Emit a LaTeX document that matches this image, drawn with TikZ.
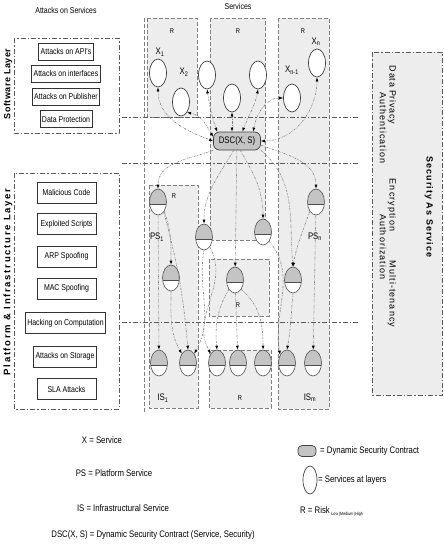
\documentclass[tikz,border=0pt]{standalone}
\usepackage{fontspec}
\setmainfont{Liberation Sans}
\newfontfamily\narrowsf[FakeStretch=0.82]{Liberation Sans}
\usetikzlibrary{arrows.meta,shapes.geometric}
\definecolor{colgray}{RGB}{237,237,237}
\definecolor{capgray}{RGB}{196,196,196}
\definecolor{linegray}{RGB}{128,128,128}

\begin{document}
\begin{tikzpicture}[x=1pt,y=1pt,>={Latex[length=4pt,width=3pt,color=black]}]
    % Define basic node styles
    \tikzset{
        attack/.style={
            rectangle,
            draw=black!80,
            fill=white,
            line width=0.7pt,
            minimum width=52,
            minimum height=17,
            inner xsep=2pt,
            inner ysep=0pt,
            font=\narrowsf\fontsize{8.5}{9}\selectfont
        },
        svc/.style={ellipse, draw=black!75, fill=white, line width=0.7pt,
            minimum width=17, minimum height=28, inner sep=0pt},
        acorn/.style={ellipse, draw=black!70, fill=white, line width=0.6pt,
            minimum width=17, minimum height=26, inner sep=0pt,
            path picture={
                \fill[capgray] ([yshift=-2pt]path picture bounding box.west) rectangle (path picture bounding box.north east);
                \draw[black!70, line width=0.6pt] ([yshift=-2pt]path picture bounding box.west) -- ([yshift=-2pt]path picture bounding box.east);
            }},
        contract/.style={rectangle, rounded corners=6pt, draw=black!75, fill=capgray,
            line width=0.7pt, minimum width=47, minimum height=18, inner sep=0pt,
            font=\narrowsf\fontsize{9.5}{10}\selectfont},
        zone/.style={draw=linegray, fill=colgray, line width=0.6pt, dash pattern=on 4pt off 2pt},
        layer/.style={draw=black!65, line width=0.7pt, dash pattern=on 5pt off 2pt on 1.5pt off 2pt},
        link/.style={draw=linegray, line width=0.6pt, dash pattern=on 2pt off 1pt on 0.5pt off 1pt on 0.5pt off 1pt},
        lbl/.style={inner sep=0pt, font=\narrowsf\fontsize{9.5}{10}\selectfont},
        risk/.style={inner sep=0pt, font=\narrowsf\fontsize{7}{8}\selectfont},
        legend/.style={inner sep=0pt, font=\narrowsf\fontsize{9.5}{10}\selectfont}
    }
    \useasboundingbox (0,0) rectangle (444,-546);

    % Headings
    \node[lbl, font=\narrowsf\fontsize{8.5}{9}\selectfont] (attacks) at (66,-10) {Attacks on Services};
    \node[lbl, font=\narrowsf\fontsize{8.5}{9}\selectfont] (services) at (238,-6) {Services};

    % Risk zones of the services
    \draw[zone] (147,-18) rectangle (197,-117);
    \draw[zone] (210,-18) rectangle (265,-240);
    \draw[zone] (278,-18) rectangle (329,-409);
    \draw[zone] (149,-185) rectangle (198,-408);
    \draw[zone] (209,-259) rectangle (269,-316);
    \draw[zone] (209,-350) rectangle (271,-408);
    \draw[zone, fill=none] (144,-18) -- (144,-413);
    \node[risk] (r1) at (172,-31) {R};
    \node[risk] (r2) at (238,-31) {R};
    \node[risk] (r3) at (303,-31) {R};
    \node[risk] (r4) at (174,-196) {R};
    \node[risk] (r5) at (238,-305) {R};
    \node[risk] (r6) at (240,-398) {R};

    % Layer boundaries
    \draw[layer] (14,-38) rectangle (119,-133);
    \draw[layer] (14,-173) rectangle (119,-409);
    \draw[layer] (122,-117) -- (358,-117);
    \draw[layer] (122,-163) -- (358,-163);
    \draw[layer] (122,-322) -- (358,-322);
    \node[rotate=90, font=\bfseries\fontsize{9}{10}\selectfont\addfontfeature{LetterSpace=6}] (soft) at (8,-84) {Software Layer};
    \node[rotate=90, font=\bfseries\fontsize{9.5}{10}\selectfont\addfontfeature{LetterSpace=18}] (plat) at (8,-282) {Platform \& Infrastructure Layer};

    % Attacks on the software layer
    \node[attack] (api) at (66,-51.5) {Attacks on API's};
    \node[attack] (iface) at (66,-73.5) {Attacks on interfaces};
    \node[attack] (publ) at (66,-96.5) {Attacks on Publisher};
    \node[attack] (prot) at (66,-119) {Data Protection};

    % Attacks on the platform & infrastructure layer
    \node[attack, minimum width=59, minimum height=21] (mal) at (66.5,-192.5) {Malicious Code};
    \node[attack, minimum width=59, minimum height=21] (expl) at (66.5,-224) {Exploited Scripts};
    \node[attack, minimum width=59, minimum height=21] (arp) at (66.5,-256.5) {ARP Spoofing};
    \node[attack, minimum width=59, minimum height=21] (mac) at (66.5,-288.5) {MAC Spoofing};
    \node[attack, minimum width=59, minimum height=21] (hack) at (65.5,-323) {Hacking on Computation};
    \node[attack, minimum width=59, minimum height=21] (stor) at (65,-356.5) {Attacks on Storage};
    \node[attack, minimum width=59, minimum height=21] (sla) at (66.5,-389) {SLA Attacks};

    % Security as a service
    \draw[layer, fill=colgray] (372,-52) rectangle (442,-395);
    \node[rotate=-90, font=\bfseries\fontsize{9}{10}\selectfont\addfontfeature{LetterSpace=12}] (saas) at (429,-207) {Security As Service};
    \node[rotate=-90, font=\fontsize{9}{10}\selectfont\addfontfeature{LetterSpace=8}] (priv) at (392,-95) {Data Privacy};
    \node[rotate=-90, font=\fontsize{9}{10}\selectfont\addfontfeature{LetterSpace=12}] (auth) at (383,-128) {Authentication};
    \node[rotate=-90, font=\fontsize{9}{10}\selectfont\addfontfeature{LetterSpace=12}] (encr) at (392,-205) {Encryption};
    \node[rotate=-90, font=\fontsize{9}{10}\selectfont\addfontfeature{LetterSpace=12}] (authz) at (383,-247) {Authorization};
    \node[rotate=-90, font=\fontsize{9}{10}\selectfont\addfontfeature{LetterSpace=12}] (multi) at (392,-294) {Multi-tenancy};

    % Services
    \node[svc] (x1) at (158,-73) {};
    \node[svc] (x2) at (181,-102) {};
    \node[svc] (x3) at (207,-75) {};
    \node[svc] (x4) at (232,-98) {};
    \node[svc] (x5) at (258,-75) {};
    \node[svc] (xn1) at (292,-98) {};
    \node[svc] (xn) at (317,-63) {};
    \node[lbl] (lx1) at (160,-52) {X\textsubscript{1}};
    \node[lbl] (lx2) at (184,-72) {X\textsubscript{2}};
    \node[lbl] (lxn1) at (292,-70) {X\textsubscript{n-1}};
    \node[lbl] (lxn) at (316,-42) {X\textsubscript{n}};

    % Dynamic security contract
    \node[contract] (dsc) at (237,-141) {DSC(X, S)};

    % Platform services
    \node[acorn] (ps1) at (158,-202) {};
    \node[acorn] (psn) at (316,-202) {};
    \node[acorn] (a2) at (204,-237) {};
    \node[acorn] (a3) at (263,-232) {};
    \node[acorn] (a4) at (171,-278) {};
    \node[acorn] (a5) at (235,-280) {};
    \node[acorn] (a6) at (293,-280) {};
    \node[lbl] (lps1) at (157,-237) {PS\textsubscript{1}};
    \node[lbl] (lpsn) at (315,-237) {PS\textsubscript{n}};

    % Infrastructural services
    \node[acorn] (is1) at (159,-363) {};
    \node[acorn] (is2) at (188,-363) {};
    \node[acorn] (is3) at (217,-363) {};
    \node[acorn] (is4) at (238,-363) {};
    \node[acorn] (is5) at (263,-363) {};
    \node[acorn] (is6) at (287,-363) {};
    \node[acorn] (is7) at (313,-363) {};
    \node[lbl] (lis1) at (163,-398) {IS\textsubscript{1}};
    \node[lbl] (lism) at (310,-398) {IS\textsubscript{m}};

    % Connections between services and the contract
    \draw[<->, link] (x1.south) to[out=-90,in=160] (dsc.west);
    \draw[<->, link] (dsc.170) to[out=120,in=-10] (x2.-60);
    \draw[<->, link] (x3.south) to[out=-80,in=110] ([xshift=4pt]dsc.north west);
    \draw[<->, link] (x4) -- (dsc.north -| x4);
    \draw[<->, link] (x5.south) to[out=-100,in=70] (dsc.60);
    \draw[<->, link] (dsc.30) to[out=80,in=180] (xn1.west);
    \draw[<->, link] (xn.south) to[out=-90,in=0] (dsc.east);

    % Connections from the contract to the platform
    \draw[->, link] (dsc.south west) to[out=200,in=90] (ps1.north);
    \draw[->, link] (dsc.250) to[out=240,in=90] (a2.north);
    \draw[->, link] (dsc) -- (a5);
    \draw[->, link] (dsc.290) to[out=-60,in=90] (a3.north);
    \draw[->, link] (dsc.-10) to[out=-20,in=90] (psn.north);
    \draw[->, link] (dsc.south east) to[out=-40,in=95] (a6.north);

    % Connections within the platform
    \draw[->, link] (ps1) -- (is1);
    \draw[->, link] (ps1.south east) to[out=-70,in=90] (a4.north);
    \draw[->, link] (ps1.-60) to[out=-75,in=95] (is2.north);
    \draw[->, link] (psn.south west) to[out=-110,in=80] (a6.north);
    \draw[->, link] (psn) -- (is7);

    % Connections to the infrastructure
    \draw[->, link] (a4.south) to[out=-90,in=120] (is2.north west);
    \draw[->, link] (a2.south) to[out=-100,in=60] (is2.north east);
    \draw[->, link] (a2.-60) to[out=-60,in=120] (is3.north west);
    \draw[->, link] (a5.south west) to[out=-120,in=95] (is3.north);
    \draw[->, link] (a5) -- (is4);
    \draw[->, link] (a5.south east) to[out=-40,in=90] (is5.north);
    \draw[->, link] (a3.south east) to[out=-50,in=100] (is6.130);
    \draw[->, link] (a6.south) to[out=-95,in=80] (is6.north);

    % Legend
    \node[legend] (lx) at (102,-440) {X = Service};
    \node[legend] (lps) at (114,-473) {PS = Platform Service};
    \node[legend] (lis) at (123,-508) {IS = Infrastructural Service};
    \node[legend] (ldsc) at (153,-535) {DSC(X, S) = Dynamic Security Contract (Service, Security)};
    \node[contract, minimum width=18, minimum height=11, rounded corners=4pt] (kdsc) at (307,-451) {};
    \node[legend, anchor=west] (tdsc) at (320,-451) {= Dynamic Security Contract};
    \node[svc, minimum width=14, minimum height=28] (ksvc) at (310,-480) {};
    \node[legend, anchor=west] (tsvc) at (318,-480) {= Services at layers};
    \node[legend, anchor=west] (trisk) at (300,-512) {R = Risk\,\raisebox{-2pt}{\fontsize{4.5}{5}\selectfont Low |Medium |High}};
\end{tikzpicture}
\end{document}
